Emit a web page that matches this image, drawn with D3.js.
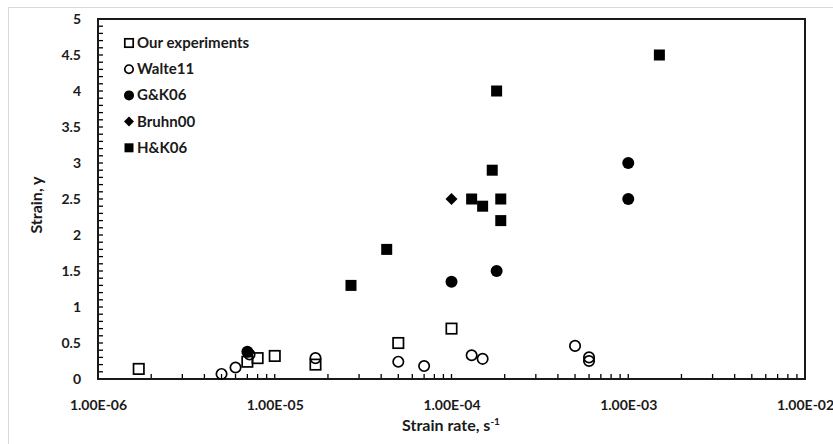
<!DOCTYPE html>
<html><head><meta charset="utf-8">
<script src="https://cdn.jsdelivr.net/npm/d3@7"></script>
<style>html,body{margin:0;padding:0;background:#fff;}svg{display:block;font-family:Lato,"Open Sans",sans-serif;font-weight:700;}</style>
</head><body><svg id="c" width="833" height="444"></svg>
<script>
const ourExperiments = [[1.7e-6,0.14],[7e-6,0.24],[8e-6,0.29],[1e-5,0.32],[1.7e-5,0.2],[5e-5,0.5],[1e-4,0.7]];
const walte11 = [[5e-6,0.07],[6e-6,0.16],[7.2e-6,0.34],[1.7e-5,0.29],[5e-5,0.24],[7e-5,0.18],[1.3e-4,0.33],[1.5e-4,0.28],[5e-4,0.46],[6e-4,0.3],[6e-4,0.25]];
const gk06 = [[7e-6,0.38],[1e-4,1.35],[1.8e-4,1.5],[1e-3,3.0],[1e-3,2.5]];
const bruhn00 = [[1e-4,2.5]];
const hk06 = [[2.7e-5,1.3],[4.3e-5,1.8],[1.3e-4,2.5],[1.5e-4,2.4],[1.7e-4,2.9],[1.9e-4,2.5],[1.9e-4,2.2],[1.8e-4,4.0],[1.5e-3,4.5]];
const xTicks = [1e-6,1e-5,1e-4,1e-3,1e-2];
const xTickLabels = ["1.00E-06","1.00E-05","1.00E-04","1.00E-03","1.00E-02"];
const yTicks = [0,0.5,1,1.5,2,2.5,3,3.5,4,4.5,5];
const seriesNames = ["Our experiments","Walte11","G&K06","Bruhn00","H&K06"];

const FONT = "Lato,'Open Sans',sans-serif";
const svg = d3.select("#c");
const L=98, R=805, T=19, B=379;
const x = d3.scaleLog().domain([1e-6,1e-2]).range([L,R]);
const y = d3.scaleLinear().domain([0,5]).range([B,T]);

// outer light frame
svg.append("rect").attr("x",8.5).attr("y",7.5).attr("width",840).attr("height",450)
  .attr("fill","none").attr("stroke","#d9d9d9").attr("stroke-width",1);

// minor ticks x (inside, pointing up)
const xMinor = [];
for (let e=-6;e<-2;e++) for (let k=1;k<10;k++) xMinor.push(k*Math.pow(10,e));
xMinor.push(1e-2);
svg.append("g").selectAll("line").data(xMinor).join("line")
  .attr("x1",d=>x(d)).attr("x2",d=>x(d)).attr("y1",B).attr("y2",B-5)
  .attr("stroke","#000").attr("stroke-width",1.3);
// minor ticks y
const yMinor = d3.range(0,51).map(i=>i/10);
svg.append("g").selectAll("line").data(yMinor).join("line")
  .attr("x1",L).attr("x2",L+5).attr("y1",d=>y(d)).attr("y2",d=>y(d))
  .attr("stroke","#000").attr("stroke-width",1.3);

// plot frame
svg.append("rect").attr("x",L).attr("y",T).attr("width",R-L).attr("height",B-T)
  .attr("fill","none").attr("stroke","#1a1a1a").attr("stroke-width",2);

// axes labels via d3 axes (hide lines)
const xAxis = svg.append("g").attr("transform",`translate(0,${B})`)
  .call(d3.axisBottom(x).tickValues(xTicks).tickFormat((d,i)=>xTickLabels[i]).tickSize(0).tickPadding(21));
xAxis.select(".domain").remove();
xAxis.selectAll("text").attr("font-size",14).attr("font-family",FONT).attr("font-weight",700).attr("fill","#1a1a1a");
const yAxis = svg.append("g").attr("transform",`translate(${L},0)`)
  .call(d3.axisLeft(y).tickValues(yTicks).tickFormat(d3.format("")).tickSize(0).tickPadding(17));
yAxis.select(".domain").remove();
yAxis.selectAll("text").attr("font-size",14).attr("font-family",FONT).attr("font-weight",700).attr("fill","#1a1a1a");

// axis titles
const xt = svg.append("text").attr("x",451).attr("y",431).attr("text-anchor","middle").attr("font-size",16).attr("fill","#1a1a1a");
xt.append("tspan").text("Strain rate, s");
xt.append("tspan").attr("dy",-6).attr("font-size",10).text("-1");
svg.append("text").attr("transform","translate(42,205) rotate(-90)").attr("text-anchor","middle")
  .attr("font-size",16).attr("fill","#1a1a1a").text("Strain, y");

// marker drawers
function sq(g, s, fill){ return g.append("rect").attr("x",-s/2).attr("y",-s/2).attr("width",s).attr("height",s)
  .attr("fill",fill?"#000":"#fff").attr("stroke","#000").attr("stroke-width",fill?0:1.7).attr("fill-opacity",fill?1:0); }
function ci(g, s, fill){ return g.append("circle").attr("r",s/2).attr("fill",fill?"#000":"none").attr("stroke","#000").attr("stroke-width",fill?0:1.7); }
function di(g, s){ return g.append("path").attr("d",`M0,${-s/2}L${s/2},0L0,${s/2}L${-s/2},0Z`).attr("fill","#000"); }

const drawers = [
  (g,s)=>sq(g,s-1.6,false),
  (g,s)=>ci(g,s-1.6,false),
  (g,s)=>ci(g,s,true),
  (g,s)=>di(g,s),
  (g,s)=>sq(g,s-1,true)
];
const allData = [ourExperiments, walte11, gk06, bruhn00, hk06];
const order = [4,3,2,0,1];
order.forEach(si=>{
  svg.append("g").selectAll("g").data(allData[si]).join("g")
    .attr("transform",d=>`translate(${x(d[0])},${y(d[1])})`)
    .each(function(){ drawers[si](d3.select(this), 12); });
});

// legend
const lg = svg.append("g");
seriesNames.forEach((n,i)=>{
  const gy = 43 + i*26.2;
  const g = lg.append("g").attr("transform",`translate(129,${gy})`);
  drawers[i](g, 10);
  lg.append("text").attr("x",137).attr("y",gy+5).attr("font-size",15).attr("fill","#1a1a1a").text(n);
});
</script></body></html>
